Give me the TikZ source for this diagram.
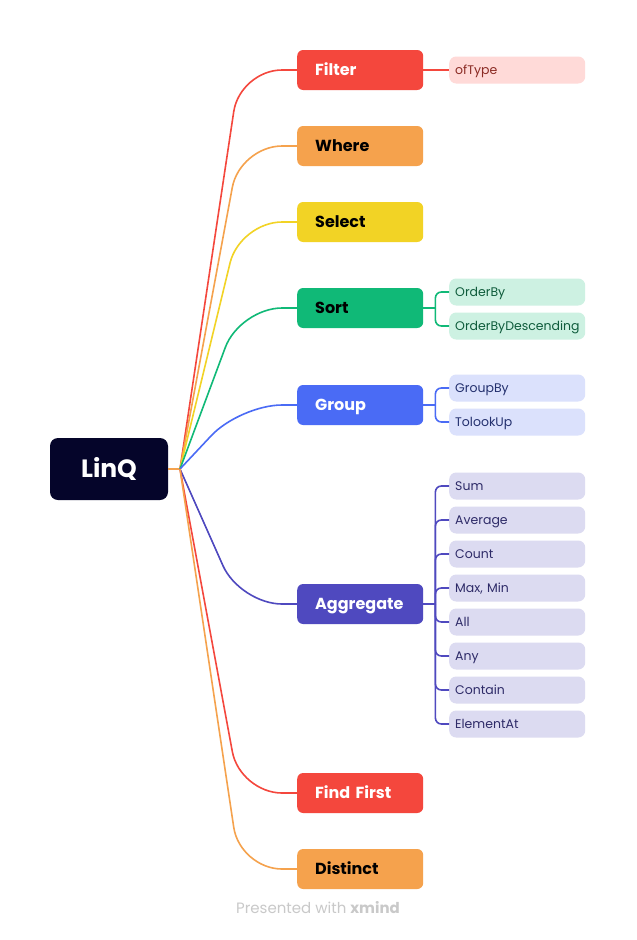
\documentclass[tikz,border=0pt]{standalone}
\usepackage{fontspec}
\setmainfont{Poppins}
\usepackage{tikz}
\usetikzlibrary{arrows.meta,positioning,calc}
\definecolor{rootfill}{HTML}{05052A}
\definecolor{cfilter}{HTML}{F4473D}
\definecolor{cwhere}{HTML}{F5A24D}
\definecolor{cselect}{HTML}{F2D325}
\definecolor{csort}{HTML}{10B977}
\definecolor{cgroup}{HTML}{4A6BF5}
\definecolor{caggr}{HTML}{4F49BF}
\definecolor{lfilter}{HTML}{FFDAD8}
\definecolor{lsort}{HTML}{CDF1E2}
\definecolor{lgroup}{HTML}{DBE1FC}
\definecolor{laggr}{HTML}{DCDBF1}
\definecolor{tfilter}{HTML}{8B2B24}
\definecolor{tsort}{HTML}{0F5C3C}
\definecolor{tgroup}{HTML}{23306E}
\definecolor{taggr}{HTML}{2E2B68}
\definecolor{footgrey}{HTML}{C9C9C9}

\begin{document}
\begin{tikzpicture}[x=1pt, y=-1pt,
  rootbox/.style={rounded corners=8pt, minimum width=118pt, minimum height=62pt, inner sep=0pt, fill=rootfill, text=white, font=\fontsize{25}{28}\selectfont\bfseries},
  topic/.style={rounded corners=6pt, anchor=west, minimum height=40pt, text width=90pt, text height=11pt, text depth=0pt, inner xsep=18pt, inner ysep=0pt, align=left, fill=#1, font=\fontsize{16}{19}\selectfont\bfseries},
  leaf/.style={rounded corners=7pt, anchor=west, minimum height=27pt, text width=124pt, text height=8.5pt, text depth=0pt, inner xsep=6pt, inner ysep=0pt, align=left, font=\fontsize{12.5}{15}\selectfont},
  link/.style={draw=#1, line width=1.6pt, rounded corners=42pt},
  sublink/.style={draw=#1, line width=1.6pt, rounded corners=6pt}
]
  \useasboundingbox[fill=white] (0,0) rectangle (637,940);

  % root and hub
  \node[rootbox] (linq) at (109,469) {LinQ};
  \coordinate (hub) at (180,469);

  % topics
  \node[topic=cfilter, text=white] (filter) at (297,70) {Filter};
  \node[topic=cwhere] (where) at (297,146) {Where};
  \node[topic=cselect] (select) at (297,222) {Select};
  \node[topic=csort] (sort) at (297,308) {Sort};
  \node[topic=cgroup, text=white] (group) at (297,405) {Group};
  \node[topic=caggr, text=white] (aggr) at (297,604) {Aggregate};
  \node[topic=cfilter, text=white] (first) at (297,793) {Find First};
  \node[topic=cwhere] (distinct) at (297,869) {Distinct};

  % leaves
  \node[leaf, fill=lfilter, text=tfilter] (oftype) at (449,70) {ofType};
  \node[leaf, fill=lsort, text=tsort] (orderby) at (449,292) {OrderBy};
  \node[leaf, fill=lsort, text=tsort] (orderdesc) at (449,326) {OrderByDescending};
  \node[leaf, fill=lgroup, text=tgroup] (groupby) at (449,388) {GroupBy};
  \node[leaf, fill=lgroup, text=tgroup] (lookup) at (449,422) {TolookUp};
  \node[leaf, fill=laggr, text=taggr] (sum) at (449,486) {Sum};
  \node[leaf, fill=laggr, text=taggr] (avg) at (449,520) {Average};
  \node[leaf, fill=laggr, text=taggr] (count) at (449,554) {Count};
  \node[leaf, fill=laggr, text=taggr] (maxmin) at (449,588) {Max, Min};
  \node[leaf, fill=laggr, text=taggr] (all) at (449,622) {All};
  \node[leaf, fill=laggr, text=taggr] (any) at (449,656) {Any};
  \node[leaf, fill=laggr, text=taggr] (contain) at (449,690) {Contain};
  \node[leaf, fill=laggr, text=taggr] (elemat) at (449,724) {ElementAt};

  % root to topics
  \draw[cwhere, line width=1.6pt] (linq.east) -- (hub);
  \draw[link=cfilter] (hub) -- (240,70) -- (filter.west);
  \draw[link=cwhere] (hub) -- (240,146) -- (where.west);
  \draw[link=cselect] (hub) -- (240,222) -- (select.west);
  \draw[link=csort] (hub) -- (240,308) -- (sort.west);
  \draw[link=cgroup] (hub) -- (240,405) -- (group.west);
  \draw[link=caggr] (hub) -- (240,604) -- (aggr.west);
  \draw[link=cfilter] (hub) -- (240,793) -- (first.west);
  \draw[link=cwhere] (hub) -- (240,869) -- (distinct.west);

  % topics to leaves
  \draw[sublink=cfilter] (filter.east) -- (oftype.west);
  \draw[sublink=csort] (sort.east) -- ++(12,0) coordinate (sortj);
  \draw[sublink=csort] (sortj) |- (orderby.west);
  \draw[sublink=csort] (sortj) |- (orderdesc.west);
  \draw[sublink=cgroup] (group.east) -- ++(12,0) coordinate (groupj);
  \draw[sublink=cgroup] (groupj) |- (groupby.west);
  \draw[sublink=cgroup] (groupj) |- (lookup.west);
  \draw[sublink=caggr] (aggr.east) -- ++(12,0) coordinate (aggrj);
  \draw[sublink=caggr] (aggrj) |- (sum.west);
  \draw[sublink=caggr] (aggrj) |- (avg.west);
  \draw[sublink=caggr] (aggrj) |- (count.west);
  \draw[sublink=caggr] (aggrj) |- (maxmin.west);
  \draw[sublink=caggr] (aggrj) |- (all.west);
  \draw[sublink=caggr] (aggrj) |- (any.west);
  \draw[sublink=caggr] (aggrj) |- (contain.west);
  \draw[sublink=caggr] (aggrj) |- (elemat.west);

  % footer
  \node[text=footgrey, font=\fontsize{15}{18}\selectfont] (footer) at (318,908) {Presented with \textbf{xmind}};
\end{tikzpicture}
\end{document}
